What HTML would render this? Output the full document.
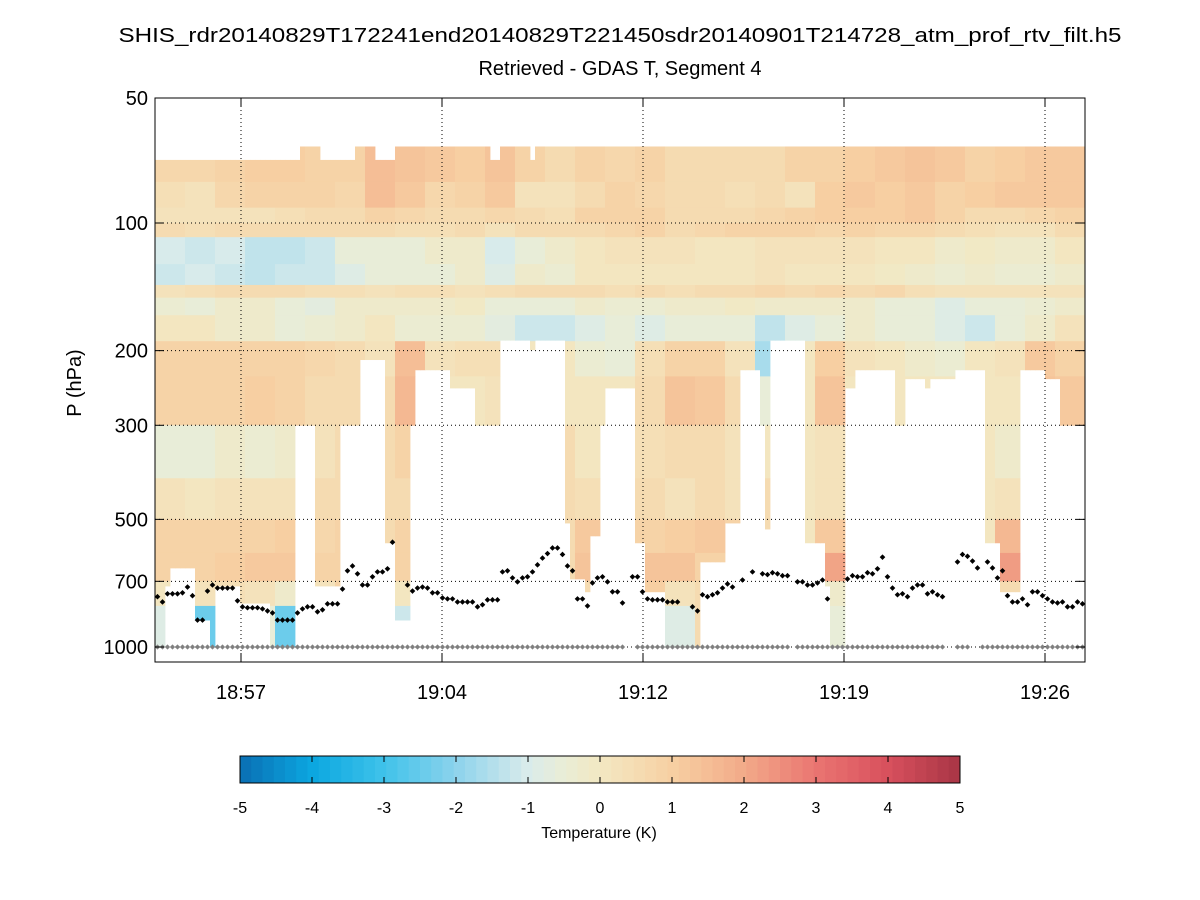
<!DOCTYPE html>
<html><head><meta charset="utf-8"><title>Retrieved - GDAS T, Segment 4</title>
<style>html,body{margin:0;padding:0;background:#fff}svg{display:block;font-family:"Liberation Sans",sans-serif}</style>
</head><body>
<svg id="chart" width="1200" height="900" viewBox="0 0 1200 900">
<text x="620" y="42" font-size="20" text-anchor="middle" textLength="1003" lengthAdjust="spacingAndGlyphs">SHIS_rdr20140829T172241end20140829T221450sdr20140901T214728_atm_prof_rtv_filt.h5</text>
<text x="620" y="75" font-size="20" text-anchor="middle">Retrieved - GDAS T, Segment 4</text>
<text transform="translate(81,383) rotate(-90)" font-size="20" text-anchor="middle">P (hPa)</text>
<g id="heat"></g>
<g id="grid"></g>
<g id="dots"></g>
<rect x="155" y="98" width="930" height="564" fill="none" stroke="#000" stroke-width="1"/>
<g id="axes"></g>
<g id="cbar"></g>
<text x="599" y="838" font-size="16" text-anchor="middle">Temperature (K)</text>
</svg>
<script>
// ---- data ----
const yTicks = [50, 100, 200, 300, 500, 700, 1000];
const xTickMinutes = [1137.0, 1144.25, 1151.5, 1158.75, 1166.0];
const xTickLabels = ['18:57', '19:04', '19:12', '19:19', '19:26'];
const cbTicks = [-5, -4, -3, -2, -1, 0, 1, 2, 3, 4, 5];
const nCols = 186;
const colStartMinute = 1133.898;
const colStepMinute = 0.18035;
const rowEdges = [66, 80, 92, 100, 108, 125, 140, 150, 165, 190, 230, 300, 400, 500, 600, 700, 800, 1000];
const tempDiff = [
[0.7,0.7,0.8,1.0,1.0,0.8,0.9,1.5,1.4,1.1,1.0,1.3,0.8,0.6,0.8,0.7,0.8,0.6,0.6,0.5,0.6,0.8,0.9,1.0,1.2,1.3,1.1,0.9,1.0,1.1,1.1],
[0.4,0.3,0.7,0.9,0.8,0.9,0.7,1.5,1.2,0.7,0.8,1.1,0.3,0.3,0.6,0.8,0.7,0.6,0.5,0.4,0.5,0.3,1.0,1.1,1.0,1.1,0.9,1.0,1.1,1.1,1.2],
[0.2,0.2,0.3,0.3,0.4,0.5,0.6,0.9,0.7,0.6,0.5,0.7,0.5,0.4,0.9,0.8,0.9,0.6,0.5,0.5,0.7,0.9,1.0,1.0,1.0,1.1,0.8,0.6,0.6,0.7,0.8],
[0.5,0.4,0.5,0.6,0.6,0.5,0.5,0.5,0.4,0.4,0.5,0.3,0.6,0.5,0.6,0.7,0.8,0.6,0.7,0.8,0.9,0.9,0.7,0.8,0.7,0.7,0.6,0.4,0.3,0.3,0.5],
[-1.0,-1.1,-1.0,-1.3,-1.3,-1.1,-0.6,-0.5,-0.6,-0.3,-0.2,-1.0,-0.5,-0.2,0.1,0.2,0.3,0.2,0.1,0.1,0.2,0.3,0.3,0.2,0.1,0.0,-0.2,-0.1,-0.2,-0.2,0.0],
[-1.1,-1.0,-1.2,-1.3,-1.2,-1.1,-0.8,-0.6,-0.5,-0.6,-0.2,-0.8,-0.3,-0.4,0.1,0.1,0.1,0.1,0.0,0.0,0.2,0.1,0.0,0.0,-0.1,-0.3,-0.4,-0.3,-0.4,-0.4,-0.2],
[0.3,0.4,0.5,0.5,0.5,0.4,0.4,0.3,0.4,0.4,0.3,0.4,0.5,0.5,0.6,0.4,0.5,0.4,0.5,0.6,0.7,0.6,0.7,0.6,0.7,0.4,0.2,0.3,0.3,0.2,0.3],
[-0.4,-0.5,-0.3,-0.3,-0.6,-0.7,-0.3,-0.3,-0.3,-0.2,-0.1,-0.6,-0.6,-0.5,-0.3,-0.4,-0.4,-0.3,-0.2,-0.1,-0.2,-0.3,-0.3,-0.3,-0.5,-0.5,-0.9,-0.6,-0.5,-0.4,-0.3],
[0.1,0.0,-0.2,-0.3,-0.6,-0.4,-0.2,0.0,-0.4,-0.4,-0.4,-0.7,-1.2,-1.1,-0.8,-0.6,-0.8,-0.6,-0.5,-0.6,-1.3,-0.8,-0.5,-0.2,-0.5,-0.6,-0.8,-1.1,-0.6,-0.3,0.2],
[0.8,0.8,0.8,0.9,0.9,0.7,0.5,0.3,1.5,0.3,0.4,0.4,0.0,0.0,-0.4,-0.5,0.4,0.8,0.9,0.2,-1.6,0.0,1.0,0.2,0.0,-0.3,-0.4,0.0,0.2,1.1,0.9],
[0.9,0.9,0.9,1.0,0.9,0.5,0.5,0.5,1.6,0.0,0.0,0.2,0.0,0.0,0.0,0.0,0.6,1.4,1.2,0.5,-0.5,0.0,1.4,0.0,0.0,0.0,0.0,0.0,0.0,1.3,1.1],
[-0.5,-0.6,-0.3,-0.4,-0.3,0.3,0.6,0.5,0.8,0.5,0.5,0.5,0.5,0.5,0.0,0.5,0.4,0.5,0.5,0.2,0.0,0.0,0.2,0.0,0.0,0.0,0.0,0.0,-0.2,0.0,0.0],
[0.3,0.0,0.2,0.3,0.3,0.6,0.6,0.5,0.5,0.5,0.5,0.5,0.5,0.6,0.4,0.5,0.5,0.3,0.5,0.2,0.5,0.0,0.3,0.0,0.0,0.0,0.0,0.0,0.3,0.0,0.0],
[0.8,0.8,0.9,0.9,1.0,0.7,0.8,0.6,0.8,0.5,0.5,0.5,0.5,0.6,1.2,0.5,0.9,1.0,1.2,0.8,0.5,0.0,1.2,0.0,0.0,0.0,0.0,0.0,1.6,0.0,0.0],
[0.9,0.9,1.0,1.1,1.2,0.9,0.9,0.6,0.8,0.5,0.5,0.5,0.5,0.6,1.4,0.5,1.3,1.3,0.9,0.7,0.5,0.0,2.1,0.0,0.0,0.0,0.0,0.0,2.2,0.0,0.0],
[0.0,0.3,0.4,0.2,-0.3,0.3,0.8,0.5,0.0,0.5,0.5,0.5,0.5,0.5,0.5,0.5,1.0,0.2,0.5,0.5,0.5,0.0,-0.2,0.0,0.0,0.0,0.0,0.0,0.5,0.0,0.0],
[-0.8,-2.5,-3.0,-0.5,-2.5,0.5,0.5,0.5,-1.2,0.5,0.5,0.5,0.5,0.5,0.5,0.5,0.5,-0.9,0.5,0.5,0.5,0.0,-0.6,0.0,0.0,0.0,0.0,0.0,0.5,0.0,0.0]
];
const topRuns = [[29,71],[4,66],[7,71],[4,66],[4,71],[19,66],[2,71],[6,66],[1,71],[110,66]];
const bottomRuns = [[2,1000],[1,718],[5,651],[3,864],[1,1000],[5,718],[6,788],[5,1000],[4,300],[5,718],[4,300],[5,210],[2,568],[3,864],[1,300],[7,222],[5,245],[5,300],[6,189],[1,199],[6,189],[1,510],[3,691],[1,741],[2,547],[1,300],[6,245],[2,568],[4,741],[7,1000],[5,630],[3,510],[4,222],[1,300],[1,527],[7,189],[4,568],[1,718],[3,1000],[2,245],[8,222],[2,300],[4,233],[1,245],[5,233],[6,222],[3,568],[4,741],[5,222],[3,233],[5,300]];
const blackDotP = [761,783,749,749,749,745,722,757,864,864,738,714,726,726,726,726,778,804,808,808,
808,813,822,831,864,864,864,864,831,813,804,804,826,817,791,791,791,730,661,644,
672,714,714,683,665,665,654,566,null,null,714,738,726,722,726,745,745,766,770,770,
783,783,783,783,804,795,774,774,774,665,661,687,702,687,683,665,640,617,602,584,
584,605,644,661,770,770,800,706,687,683,702,741,741,787,null,683,683,741,770,774,
774,774,783,783,783,null,null,804,822,753,761,753,745,726,710,722,null,695,null,665,
null,672,675,668,672,679,679,null,702,702,714,714,706,695,770,null,null,null,691,679,
683,683,668,672,654,614,683,726,753,749,761,726,714,714,749,741,753,761,null,null,
630,605,611,627,651,null,630,651,687,661,757,783,783,770,795,741,741,757,770,783,
787,783,804,804,783,791];
const grayGapCols = [94,95,127,158,159,163,164];
const surfaceP = 1000;

// ---- scales ----
const NS = 'http://www.w3.org/2000/svg';
const X0 = 155, X1 = 1085, Y0 = 98, Y1 = 662;
function yOf(p){ return 223 + 424 * Math.log10(p / 100); }
function xOfMinute(t){ return 241 + (t - 1137) * (201 / 7.25); }
const colW = (X1 - X0) / nCols;
function colX(i){ return X0 + i * colW; }

const cStops = [[-5,[10,111,180]],[-4,[11,167,224]],[-3,[63,194,234]],[-2,[141,211,236]],[-1,[217,235,235]],[-0.5,[233,237,214]],[0,[243,232,194]],[1,[247,208,162]],[2,[242,170,137]],[3,[234,117,113]],[4,[216,80,93]],[5,[168,53,69]]];
function cmap(v){
  let q = Math.max(0, Math.min(63, Math.floor((v + 5) / 10 * 64)));
  let vv = -5 + (q + 0.5) * 10 / 64;
  for (let k = 0; k < cStops.length - 1; k++) {
    const a = cStops[k], b = cStops[k+1];
    if (vv <= b[0]) {
      const f = (vv - a[0]) / (b[0] - a[0]);
      const c = a[1].map((x, j) => Math.round(x + (b[1][j] - x) * f));
      return 'rgb(' + c.join(',') + ')';
    }
  }
  return 'rgb(168,53,69)';
}
function expand(runs){ const out = []; runs.forEach(r => { for (let k = 0; k < r[0]; k++) out.push(r[1]); }); return out; }
function mk(tag, attrs, parent){ const e = document.createElementNS(NS, tag); for (const k in attrs) e.setAttribute(k, attrs[k]); parent.appendChild(e); return e; }

// ---- heatmap ----
const topP = expand(topRuns), botP = expand(bottomRuns);
const heat = document.getElementById('heat');
for (let i = 0; i < nCols; i++) {
  const g = Math.min(30, Math.floor(i / 6));
  for (let r = 0; r < rowEdges.length - 1; r++) {
    const pa = Math.max(rowEdges[r], topP[i]), pb = Math.min(rowEdges[r+1], botP[i]);
    if (pb <= pa) continue;
    const ya = yOf(pa), yb = yOf(pb);
    const el = mk('rect', {x: colX(i).toFixed(2), y: ya.toFixed(2), width: (colW + 0.4).toFixed(2), height: (yb - ya + 0.4).toFixed(2), fill: cmap(tempDiff[r][g])}, heat);
    
    
  }
}

// ---- grid & axes ----
const grid = document.getElementById('grid'), axes = document.getElementById('axes');
yTicks.forEach(p => {
  const y = yOf(p) < Y0 ? Y0 : yOf(p);
  if (p !== 50) {
    const l = mk('line', {x1: X0, x2: X1, y1: y, y2: y, stroke: '#000', 'stroke-width': 1, 'stroke-dasharray': '1,3'}, grid);
    
    
  }
  const t1 = mk('line', {x1: X0, x2: X0 + 9, y1: y, y2: y, stroke: '#000'}, axes);
  
  
  const t2 = mk('line', {x1: X1 - 9, x2: X1, y1: y, y2: y, stroke: '#000'}, axes);
  
  
  const tx = mk('text', {x: 148, y: y + 7, 'font-size': 20, 'text-anchor': 'end'}, axes);
  tx.textContent = String(p);
  
  
});
xTickMinutes.forEach((t, k) => {
  const x = xOfMinute(t);
  const l = mk('line', {x1: x, x2: x, y1: Y0, y2: Y1, stroke: '#000', 'stroke-width': 1, 'stroke-dasharray': '1,3'}, grid);
  
  
  const t1 = mk('line', {x1: x, x2: x, y1: Y1 - 9, y2: Y1, stroke: '#000'}, axes);
  
  
  const t2 = mk('line', {x1: x, x2: x, y1: Y0, y2: Y0 + 9, stroke: '#000'}, axes);
  
  
  const tx = mk('text', {x: x, y: 699, 'font-size': 20, 'text-anchor': 'middle'}, axes);
  tx.textContent = xTickLabels[k];
  
  
});

// ---- dots ----
const dots = document.getElementById('dots');
function diamond(cx, cy, r, fill){
  return mk('path', {d: 'M' + cx + ' ' + (cy - r) + 'L' + (cx + r) + ' ' + cy + 'L' + cx + ' ' + (cy + r) + 'L' + (cx - r) + ' ' + cy + 'Z', fill: fill}, dots);
}
for (let i = 0; i < nCols; i++) {
  const cx = colX(i) + colW / 2;
  if (grayGapCols.indexOf(i) < 0) {
    const g = diamond(cx, yOf(surfaceP), 2.6, '#808080');
    
    
  }
  const p = blackDotP[i];
  if (p !== null && p !== undefined) {
    const d = diamond(cx, yOf(p), 2.8, '#000');
    
    
  }
}

// ---- colorbar ----
const cb = document.getElementById('cbar');
const CBX0 = 240, CBX1 = 960, CBY0 = 756, CBY1 = 783;
for (let q = 0; q < 64; q++) {
  const v = -5 + (q + 0.5) * 10 / 64;
  const x = CBX0 + q * (CBX1 - CBX0) / 64;
  const r = mk('rect', {x: x.toFixed(2), y: CBY0, width: ((CBX1 - CBX0) / 64 + 0.3).toFixed(2), height: CBY1 - CBY0, fill: cmap(v)}, cb);
  
  
}
const cbf = mk('rect', {x: CBX0, y: CBY0, width: CBX1 - CBX0, height: CBY1 - CBY0, fill: 'none', stroke: '#000'}, cb);


cbTicks.forEach(v => {
  const x = CBX0 + (v + 5) / 10 * (CBX1 - CBX0);
  const a = mk('line', {x1: x, x2: x, y1: CBY0, y2: CBY0 + 6, stroke: '#000'}, cb);
  
  
  const b = mk('line', {x1: x, x2: x, y1: CBY1 - 6, y2: CBY1, stroke: '#000'}, cb);
  
  
  const t = mk('text', {x: x, y: 813, 'font-size': 16, 'text-anchor': 'middle'}, cb);
  t.textContent = String(v);
  
  
});
</script>
</body></html>
